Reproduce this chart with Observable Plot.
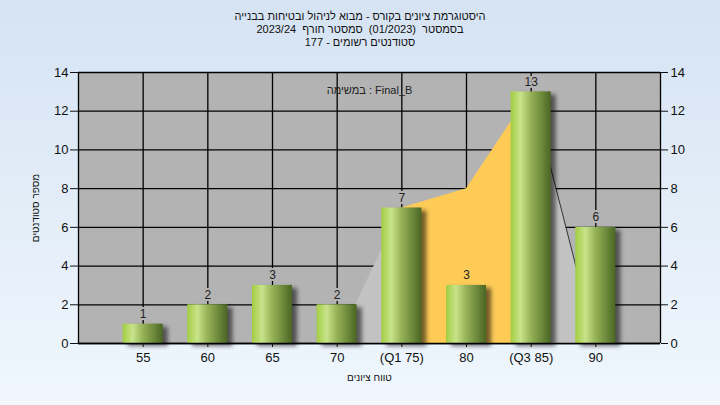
<!DOCTYPE html>
<html><head><meta charset="utf-8">
<script src="https://cdn.jsdelivr.net/npm/d3@7"></script>
<script src="https://cdn.jsdelivr.net/npm/@observablehq/plot@0.6"></script>
<style>
body{margin:0;}
#wrap{width:720px;height:405px;background:linear-gradient(#d5e3f3,#f0f7fd);font-family:"Liberation Sans",Arial,sans-serif;position:relative;overflow:hidden;}
#title{height:55px;padding-top:10px;box-sizing:border-box;text-align:center;font-size:11px;line-height:13px;color:#111;direction:rtl;}
</style></head><body>
<div id="wrap">
<div id="title">
<div>היסטוגרמת ציונים בקורס - מבוא לניהול ובטיחות בבנייה</div>
<div>בסמסטר&nbsp; (01/2023)&nbsp; סמסטר חורף&nbsp; 2023/24</div>
<div>סטודנטים רשומים - 177</div>
</div>
<div id="chart"></div>
</div>
<script>
const categories = ["55", "60", "65", "70", "(Q1 75)", "80", "(Q3 85)", "90"];
const counts = [1, 2, 3, 2, 7, 3, 13, 6];
const yTicks = [0, 2, 4, 6, 8, 10, 12, 14];
const curveValues = [null, null, null, 0, 7, 8, 13, 0];
const taskLabel = "במשימה : Final_B";
const xLabel = "טווח ציונים";
const yLabel = "מספר סטודנטים";

const bgColor = "#b3b3b3", tailColor = "#c2c2c2", iqrColor = "#fecb57";
const q1 = categories.findIndex(c => c.includes("Q1"));
const q3 = categories.findIndex(c => c.includes("Q3"));
const bars = categories.map((c, i) => ({
  i, x: i + 1, c, n: counts[i],
  halo: curveValues[i] != null && curveValues[i] > counts[i] ? (i >= q1 && i <= q3 ? iqrColor : tailColor) : bgColor
}));
const curve = categories.map((c, i) => ({i, x: i + 1, y: curveValues[i]})).filter(d => d.y != null);
const leftTail = curve.filter(d => d.i <= q1);
const iqr = curve.filter(d => d.i >= q1 && d.i <= q3);
const rightTail = curve.filter(d => d.i >= q3);
const hw = 0.31;

const plot = Plot.plot({
  width: 720, height: 350,
  marginTop: 17, marginBottom: 62, marginLeft: 78, marginRight: 60,
  style: {background: "transparent", fontSize: "13px", fontFamily: "Liberation Sans, Arial, sans-serif", color: "#111"},
  x: {type: "linear", domain: [0, categories.length + 1], axis: null},
  y: {domain: [0, 14], axis: null},
  marks: [
    Plot.frame({fill: bgColor, stroke: null}),
    Plot.ruleY(yTicks, {stroke: "#000", strokeWidth: 1.3}),
    Plot.ruleX(bars, {x: "x", stroke: "#000", strokeWidth: 1.3}),
    Plot.areaY(leftTail, {x: "x", y: "y", fill: tailColor}),
    Plot.areaY(rightTail, {x: "x", y: "y", fill: tailColor}),
    Plot.areaY(iqr, {x: "x", y: "y", fill: iqrColor}),
    Plot.lineY(rightTail, {x: "x", y: "y", stroke: "#333", strokeWidth: 1}),
    Plot.rectY(bars, {x1: d => d.x - hw, x2: d => d.x + hw, y1: 0, y2: "n", fill: "#000", fillOpacity: 0.55, dx: 5, dy: 3}),
    Plot.rectY(bars, {x1: d => d.x - hw, x2: d => d.x + hw, y1: 0, y2: "n", fill: "url(#barGrad)"}),
    Plot.ruleY([0], {stroke: "#000", strokeWidth: 1.3}),
    Plot.ruleX([0, categories.length + 1], {stroke: "#000", strokeWidth: 1.3}),
    Plot.text(bars, {x: "x", y: "n", text: d => String(d.n), dy: -10, fill: "#222", fontSize: 12, stroke: "halo", strokeWidth: 4}),
    Plot.text([taskLabel], {frameAnchor: "top", dy: 14, text: d => d, fill: "#222", fontSize: 11}),
    Plot.axisY({ticks: yTicks, anchor: "left", tickSize: 8, tickPadding: 2, label: null, fontSize: 13}),
    Plot.axisY({ticks: yTicks, anchor: "right", tickSize: 7, tickPadding: 3, label: null, fontSize: 13}),
    Plot.axisX({ticks: bars.map(d => d.x), tickFormat: v => categories[v - 1], anchor: "bottom", tickSize: 4, tickPadding: 5, label: null, fontSize: 13}),
    Plot.text([xLabel], {frameAnchor: "bottom", dy: 37, text: d => d, fill: "#111", fontSize: 10, textAnchor: "middle"}),
    Plot.text([yLabel], {frameAnchor: "left", dx: -43, rotate: -90, text: d => d, fill: "#111", fontSize: 10, textAnchor: "middle"})
  ]
});

const svg = d3.select(plot);
const defs = svg.insert("defs", ":first-child");
const g = defs.append("linearGradient").attr("id", "barGrad").attr("x1", 0).attr("x2", 1).attr("y1", 0).attr("y2", 0);
[["0%", "#a2cd42"], ["25%", "#c8e38b"], ["50%", "#97b358"], ["100%", "#4a6623"]].forEach(([o, c]) => g.append("stop").attr("offset", o).attr("stop-color", c));
const f = defs.append("filter").attr("id", "blur").attr("x", "-20%").attr("y", "-20%").attr("width", "140%").attr("height", "140%");
f.append("feGaussianBlur").attr("stdDeviation", 2);
svg.selectAll('g[aria-label="rect"]').filter((d, i) => i === 0).attr("filter", "url(#blur)");
document.getElementById("chart").appendChild(plot);
</script>
</body></html>
